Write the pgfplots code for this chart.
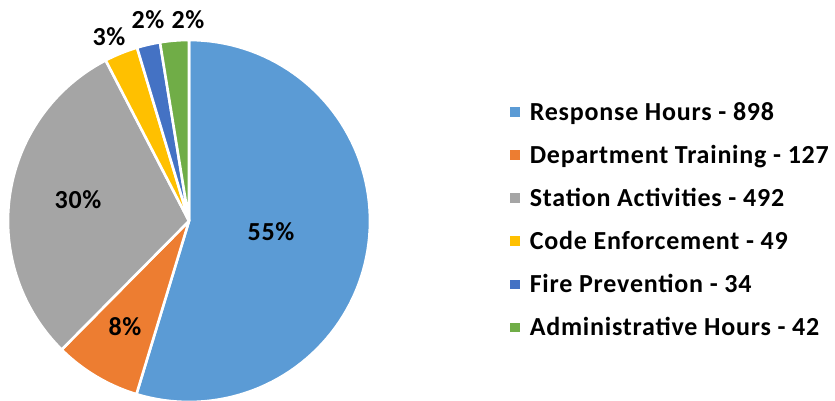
\documentclass[border=0pt]{standalone}
\usepackage{pgfplots}
\pgfplotsset{compat=1.18}
\usepackage{fontspec}
\setmainfont{Carlito}
\newfontfamily\labfont[LetterSpace=3]{Carlito}
\definecolor{cA}{HTML}{5B9BD5}
\definecolor{cB}{HTML}{ED7D31}
\definecolor{cC}{HTML}{A5A5A5}
\definecolor{cD}{HTML}{FFC000}
\definecolor{cE}{HTML}{4472C4}
\definecolor{cF}{HTML}{70AD47}
% data
\def\vA{898}\def\vB{127}\def\vC{492}\def\vD{49}\def\vE{34}\def\vF{42}
\pgfmathsetmacro{\tot}{\vA+\vB+\vC+\vD+\vE+\vF}
\pgfmathsetmacro{\aA}{90}
\pgfmathsetmacro{\aB}{\aA-360*(\vA/\tot)}
\pgfmathsetmacro{\aC}{\aB-360*(\vB/\tot)}
\pgfmathsetmacro{\aD}{\aC-360*(\vC/\tot)}
\pgfmathsetmacro{\aE}{\aD-360*(\vD/\tot)}
\pgfmathsetmacro{\aF}{\aE-360*(\vE/\tot)}
\pgfmathsetmacro{\aG}{\aF-360*(\vF/\tot)}
\def\cx{189}\def\cy{179}\def\rr{181}
\newcommand{\slice}[3]{%
  \addplot[fill=#3, draw=white, line width=2.6pt, line join=round, domain=#1:#2, samples=90]
    ({\cx+\rr*cos(x)},{\cy+\rr*sin(x)}) -- (axis cs:\cx,\cy) -- cycle;}
\begin{document}
\begin{tikzpicture}
\begin{axis}[x=1pt,y=1pt,xmin=0,xmax=835,ymin=0,ymax=400,
  scale only axis, hide axis, clip=true,
  legend style={at={(axis cs:510,300)},anchor=north west,draw=none,fill=none,
    font=\labfont\bfseries\fontsize{26}{30}\selectfont, row sep=19.4pt,
    inner sep=0pt, cells={anchor=west},
    /tikz/every odd column/.append style={column sep=8pt}},
  legend image code/.code={\fill[#1,draw=none] (0pt,-4.8pt) rectangle (9.6pt,4.8pt);},
  ]
\path (axis cs:0,0) rectangle (axis cs:835,400);
\slice{\aB}{\aA}{cA}
\slice{\aC}{\aB}{cB}
\slice{\aD}{\aC}{cC}
\slice{\aE}{\aD}{cD}
\slice{\aF}{\aE}{cE}
\slice{\aG}{\aF}{cF}
\addlegendimage{fill=cA}\addlegendentry{Response Hours - 898}
\addlegendimage{fill=cB}\addlegendentry{Department Training - 127}
\addlegendimage{fill=cC}\addlegendentry{Station Activities - 492}
\addlegendimage{fill=cD}\addlegendentry{Code Enforcement - 49}
\addlegendimage{fill=cE}\addlegendentry{Fire Prevention - 34}
\addlegendimage{fill=cF}\addlegendentry{Administrative Hours - 42}
\begin{scope}[font=\labfont\bfseries\fontsize{26}{30}\selectfont]
\node at (axis cs:271,168) {55\%};
\node at (axis cs:125,73) {8\%};
\node at (axis cs:78,200) {30\%};
\node at (axis cs:109,363) {3\%};
\node at (axis cs:148,380) {2\%};
\node at (axis cs:188,380) {2\%};
\end{scope}
\end{axis}
\end{tikzpicture}
\end{document}
